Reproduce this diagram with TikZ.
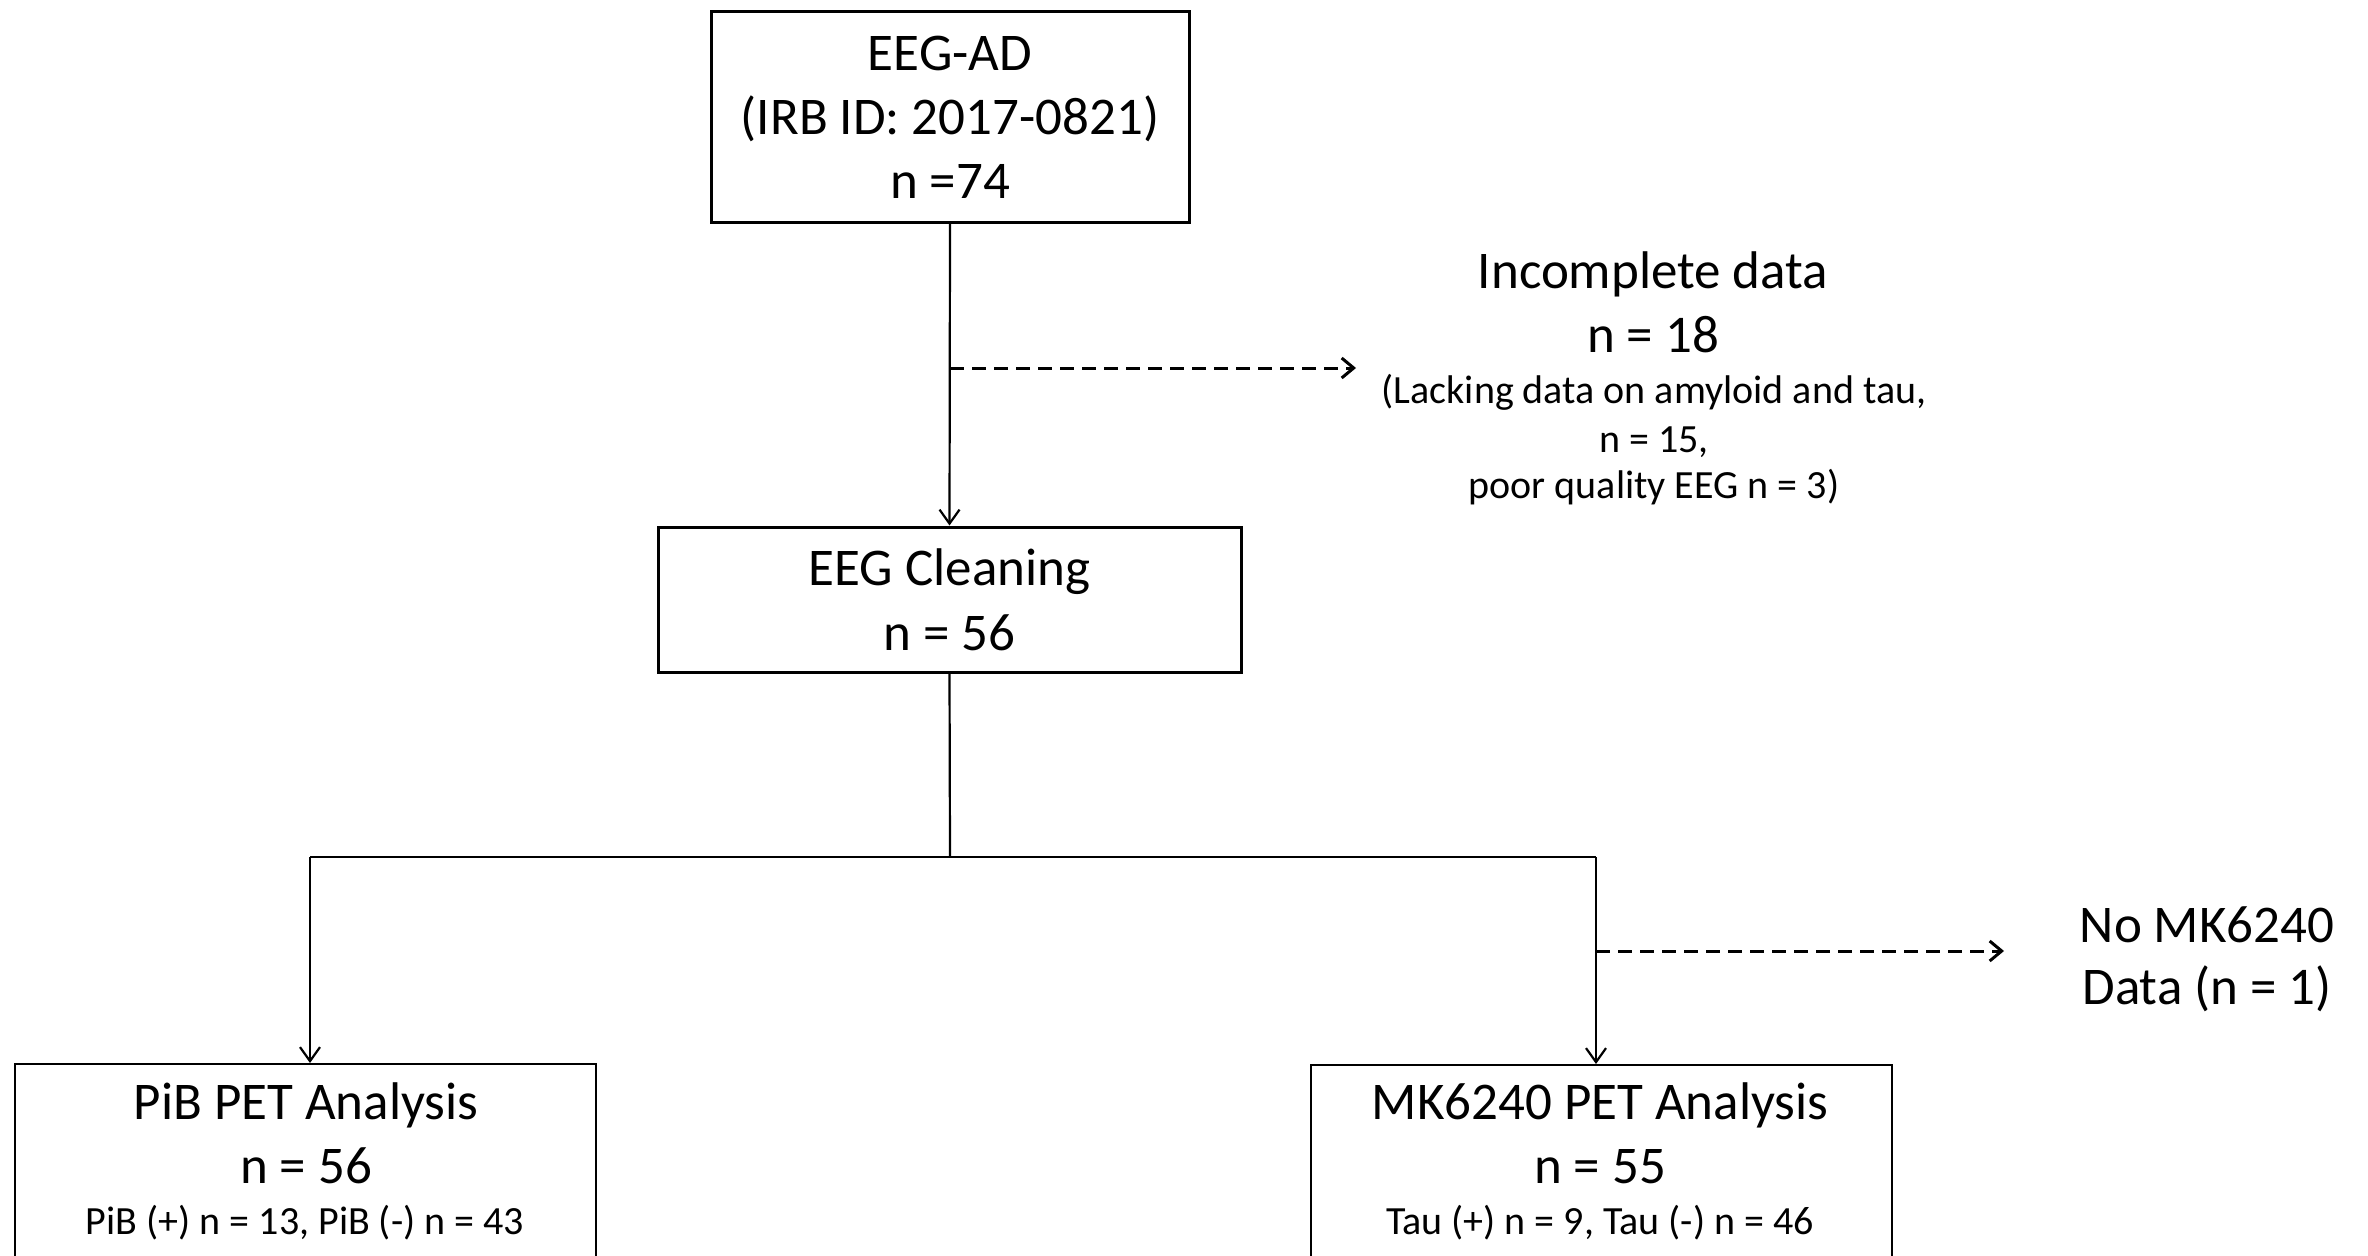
\documentclass[tikz,border=0pt]{standalone}
\usepackage{fontspec}
\setmainfont{Carlito}
\usetikzlibrary{arrows.meta}
\tikzset{
  box/.style={draw, line width=3pt, inner sep=0pt, align=center},
  thinbox/.style={draw, line width=2.4pt, inner sep=0pt},
  big/.style={font=\fontsize{53}{64}\selectfont},
  small/.style={font=\fontsize{40}{48}\selectfont},
  lbl/.style={anchor=base, inner sep=0pt},
  conn/.style={line width=2.2pt, -{Straight Barb[length=14pt,width=20pt,line width=2.2pt]}},
  plain/.style={line width=2.2pt},
  dashconn/.style={line width=3pt, dash pattern=on 14pt off 8pt, -{Straight Barb[length=12pt,width=20pt,line width=3pt]}}
}
\begin{document}
\begin{tikzpicture}[x=1pt,y=-1pt]
\useasboundingbox (0,0) rectangle (2368,1255);
\fill[white] (0,0) rectangle (2368,1255);
\clip (0,0) rectangle (2368,1255);

% top box
\node[box, big, minimum width=478pt, minimum height=210pt] (ad) at (950,117)
  {EEG-AD\\(IRB ID: 2017-0821)\\n =74};

% cleaning box
\node[box, big, font=\fontsize{53}{65}\selectfont, minimum width=583pt, minimum height=145pt] (clean) at (949.5,599.5)
  {EEG Cleaning\\n = 56};

% excluded: incomplete data
\node[lbl, big] (incA) at (1653,288) {Incomplete data};
\node[lbl, big] (incB) at (1653,352) {n = 18};
\node[lbl, small] (incC) at (1654,403) {(Lacking data on amyloid and tau,};
\node[lbl, small] (incD) at (1654,452) {n = 15,};
\node[lbl, small] (incE) at (1654,498) {poor quality EEG n = 3)};

% bottom boxes (cut off at the lower edge)
\node[thinbox, minimum width=581pt, minimum height=300pt, anchor=north] (pib) at (305.5,1063) {};
\node[lbl, big] (pibA) at (306,1119) {PiB PET Analysis};
\node[lbl, big] (pibB) at (306,1183) {n = 56};
\node[lbl, small] (pibC) at (305,1234) {PiB (+) n = 13, PiB (-) n = 43};

\node[thinbox, minimum width=581pt, minimum height=300pt, anchor=north] (mk) at (1601.5,1064) {};
\node[lbl, big] (mkA) at (1600,1119) {MK6240 PET Analysis};
\node[lbl, big] (mkB) at (1600,1183) {n = 55};
\node[lbl, small] (mkC) at (1600,1234) {Tau (+) n = 9, Tau (-) n = 46};

% excluded: no MK6240
\node[lbl, big] (noA) at (2207,942) {No MK6240};
\node[lbl, big] (noB) at (2207,1004) {Data (n = 1)};

% junction coordinates
\coordinate (j1) at (950,368);
\coordinate (j1e) at (1356,368);
\coordinate (c1) at (950,857);
\coordinate (bl) at (310,857);
\coordinate (br) at (1596,857);
\coordinate (j2) at (1596,951);
\coordinate (j2e) at (2004,951);

% connectors
\draw[conn] (ad.south) -- (clean.north);
\draw[dashconn] (j1) -- (j1e);
\draw[plain] (clean.south) -- (c1);
\draw[plain] (bl) -- (br);
\draw[conn] (bl) -- (bl |- pib.north);
\draw[conn] (br) -- (br |- mk.north);
\draw[dashconn] (j2) -- (j2e);
\end{tikzpicture}
\end{document}
